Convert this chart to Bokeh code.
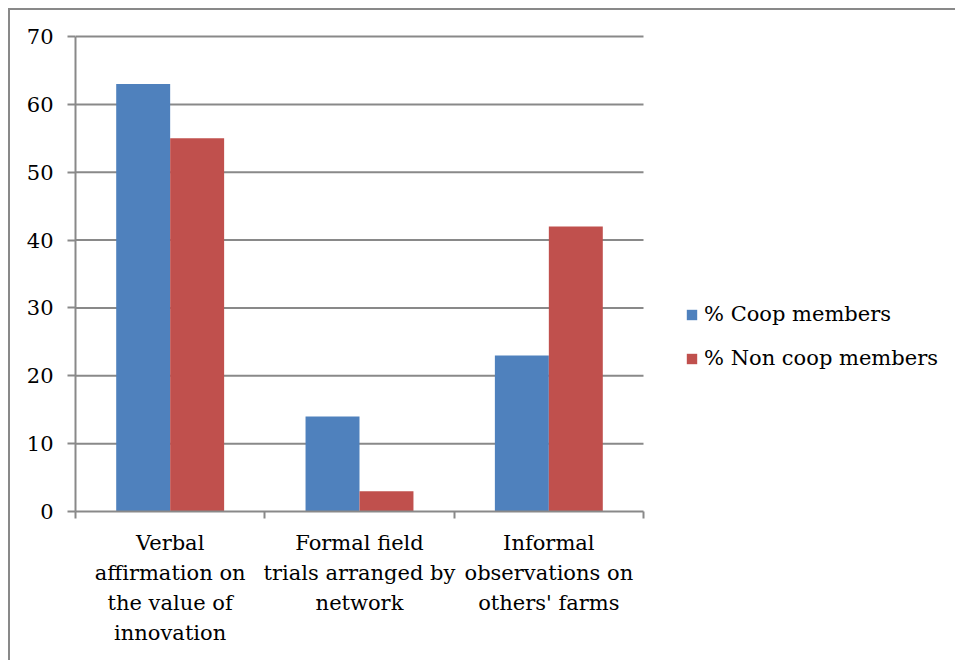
from bokeh.plotting import figure
from bokeh.models import ColumnDataSource, FixedTicker, Legend, LegendItem, Range1d
from bokeh.transform import dodge
from bokeh.embed import file_html
from bokeh.resources import INLINE

categories = ["Verbal\naffirmation on\nthe value of\ninnovation",
              "Formal field\ntrials arranged by\nnetwork",
              "Informal\nobservations on\nothers' farms"]
coop = [63, 14, 23]
non_coop = [55, 3, 42]
y_ticks = [0, 10, 20, 30, 40, 50, 60, 70]

n = len(categories)
x_pos = [i + 0.5 for i in range(n)]
src = ColumnDataSource(dict(x=x_pos, coop=coop, non=non_coop))
grid_src = ColumnDataSource(dict(y=y_ticks[1:], x0=[0] * (len(y_ticks) - 1),
                                 x1=[n] * (len(y_ticks) - 1)))

GRAY = "#898989"
FONT = "DejaVu Serif"
FS = "21px"

W, H = 947, 652
left, top = 65, 24
bottom = H - (511 - 10)
frame_w = W - left
x_end = n * frame_w / (643 - 75)
y_max = y_ticks[-1]

p = figure(width=W, height=H, output_backend="svg", toolbar_location=None,
           x_range=Range1d(0, x_end), y_range=Range1d(0, y_max + 0.3),
           min_border_left=left, min_border_top=top, min_border_right=0,
           min_border_bottom=bottom)
p.outline_line_color = None
p.xgrid.visible = False
p.ygrid.visible = False
p.styles = {"margin-left": "8px", "margin-top": "8px",
            "border-left": "2px solid " + GRAY, "border-top": "2px solid " + GRAY}

p.segment(x0="x0", x1="x1", y0="y", y1="y", source=grid_src,
          line_color=GRAY, line_width=2)

bw = 0.285
r1 = p.vbar(x=dodge("x", -bw / 2, range=p.x_range), top="coop", width=bw,
            source=src, fill_color="#4F81BD", line_color=None)
r2 = p.vbar(x=dodge("x", bw / 2, range=p.x_range), top="non", width=bw,
            source=src, fill_color="#C0504D", line_color=None)

# x axis
xa = p.xaxis[0]
xa.bounds = (0, n)
xa.ticker = FixedTicker(ticks=x_pos, minor_ticks=list(range(n + 1)))
xa.major_label_overrides = {x: c for x, c in zip(x_pos, categories)}
xa.major_tick_line_color = None
xa.minor_tick_in = 0
xa.minor_tick_out = 7
xa.minor_tick_line_color = GRAY
xa.minor_tick_line_width = 2
xa.axis_line_color = GRAY
xa.axis_line_width = 2
xa.major_label_text_font = FONT
xa.major_label_text_font_size = FS
xa.major_label_text_color = "#000000"
xa.major_label_text_line_height = 1.25
xa.major_label_standoff = 12

# y axis
ya = p.yaxis[0]
ya.bounds = (0, y_max)
ya.ticker = FixedTicker(ticks=y_ticks, minor_ticks=[])
ya.major_tick_in = 0
ya.major_tick_out = 8
ya.major_tick_line_color = GRAY
ya.major_tick_line_width = 2
ya.axis_line_color = GRAY
ya.axis_line_width = 2
ya.major_label_text_font = FONT
ya.major_label_text_font_size = FS
ya.major_label_text_color = "#000000"
ya.major_label_standoff = 14

legend = Legend(items=[LegendItem(label="% Coop members", renderers=[r1]),
                       LegendItem(label="% Non coop members", renderers=[r2])],
                location=(610, 138), orientation="vertical",
                padding=0, margin=0, spacing=14,
                glyph_width=13, glyph_height=13, label_height=30,
                label_standoff=6,
                label_text_font=FONT, label_text_font_size=FS,
                label_text_color="#000000",
                border_line_color=None, background_fill_alpha=0)
p.add_layout(legend, "center")

open("out.html", "w").write(file_html(p, INLINE))
